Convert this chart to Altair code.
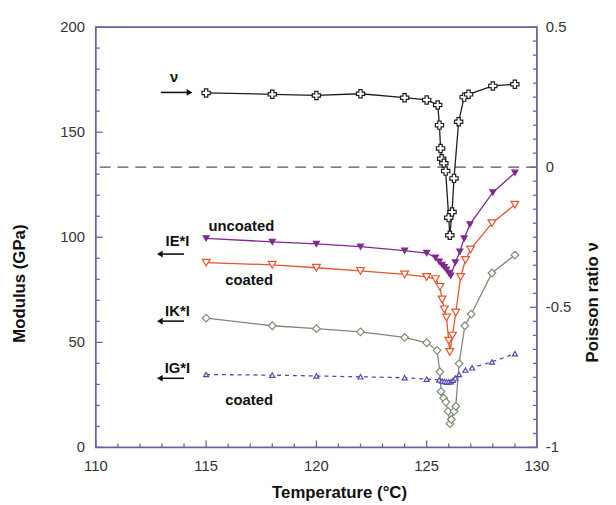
import altair as alt
import pandas as pd

# ---------------- data ----------------
nu_T = [115, 118, 120, 122, 124, 125, 125.5, 125.58, 125.63, 125.68, 125.78, 125.86,
        126.0, 126.05, 126.15, 126.24, 126.45, 126.7, 126.9, 128, 129]
nu_v = [0.265, 0.26, 0.256, 0.262, 0.248, 0.24, 0.222, 0.15, 0.067, 0.03, 0.014, -0.014,
        -0.18, -0.243, -0.16, -0.04, 0.162, 0.25, 0.26, 0.29, 0.296]

Eu_T = [115, 118, 120, 122, 124, 125, 125.4, 125.57, 125.7, 125.8, 125.9, 126.0, 126.09,
        126.3, 126.5, 126.7, 126.96, 128, 129]
Eu_v = [99.5, 97.8, 96.8, 95.5, 93.6, 92.5, 90.3, 88.4, 86.9, 85.8, 84.6, 83.0, 81.7,
        88.0, 93.1, 99.4, 106.1, 121.3, 130.7]

Ec_T = [115, 118, 120, 122, 124, 125, 125.4, 125.6, 125.7, 125.8, 125.9, 126.0, 126.05,
        126.17, 126.32, 126.54, 126.76, 126.99, 127.96, 129.0]
Ec_v = [87.9, 86.9, 85.5, 84.0, 82.3, 81.1, 80.1, 76.4, 70.4, 65.7, 61.8, 50.8, 45.4,
        53.2, 64.2, 81.1, 89.2, 94.2, 106.7, 115.5]

K_T = [115, 118, 120, 122, 124, 125, 125.47, 125.6, 125.65, 125.77, 125.87, 125.97, 126.06,
       126.12, 126.24, 126.32, 126.47, 126.73, 127.02, 127.96, 129.0]
K_v = [61.5, 57.9, 56.5, 55.0, 52.4, 49.8, 46.2, 36.0, 26.6, 23.5, 21.6, 17.2, 11.3,
       13.3, 17.2, 19.6, 39.9, 57.9, 63.4, 83.0, 91.5]

G_T = [115, 118, 120, 122, 124, 125, 125.57, 125.7, 125.8, 125.9, 126.0, 126.1, 126.2,
       126.3, 126.47, 126.76, 127.06, 127.96, 129.0]
G_v = [34.7, 34.4, 34.0, 33.6, 33.2, 32.5, 32.1, 31.6, 31.4, 31.2, 31.2, 31.3, 32.0,
       33.0, 34.7, 36.8, 37.9, 40.7, 44.6]

x_ticks_major = [110, 115, 120, 125, 130]
x_ticks_minor = [t for t in range(110, 131) if t % 5 != 0]
yl_ticks_major = [0, 50, 100, 150, 200]
yl_ticks_minor = [v for v in range(0, 201, 10) if v % 50 != 0]
yr_ticks_major = [-1, -0.5, 0, 0.5]
yr_tick_labels = ["-1", "-0.5", "0", "0.5"]
yr_ticks_minor = [round(-1 + 0.05 * i, 2) for i in range(31) if i % 10 != 0]

labels = ["\u03bd", "IE*I", "uncoated", "coated", "IK*I", "IG*I", "coated"]
label_T = [113.55, 113.7, 116.6, 116.95, 113.7, 113.7, 116.95]
label_v = [176.0, 98.3, 105.5, 79.8, 64.8, 38.0, 22.5]

arrow_T1 = [112.95, 112.9, 112.9, 112.9]
arrow_T2 = [114.25, 114.0, 114.0, 114.0]
arrow_v = [168.9, 92.0, 60.1, 32.9]
arrow_dir = ["right", "left", "left", "left"]

# ---------------- styling ----------------
W, H = 447, 426
AXIS = "#7660a2"
FONT = "Liberation Sans"
C_NU = "#1e1e1e"
C_EU = "#7f2a8e"
C_EC = "#e6532c"
C_K = "#7c8c74"
C_G = "#5a45ad"

xs = alt.Scale(domain=[110, 130], nice=False, zero=False)
yL = alt.Scale(domain=[0, 200], nice=False, zero=False)
yR = alt.Scale(domain=[-1, 0.5], nice=False, zero=False)

X = lambda f="t": alt.X(f"{f}:Q", scale=xs, axis=None)
YL = lambda f="v": alt.Y(f"{f}:Q", scale=yL, axis=None)
YR = lambda f="v": alt.Y(f"{f}:Q", scale=yR, axis=None)


def df(t, v):
    return pd.DataFrame({"t": t, "v": v})


def series(t, v, color, shape, size, fill, ych, dash=None, sw=1.3):
    base = alt.Chart(df(t, v))
    lk = dict(color=color, strokeWidth=sw)
    if dash:
        lk["strokeDash"] = dash
    line = base.mark_line(**lk).encode(x=X(), y=ych())
    pts = base.mark_point(shape=shape, size=size, filled=True, fill=fill, stroke=color,
                          strokeWidth=1.2, opacity=1).encode(x=X(), y=ych())
    return [line, pts]


# ticks (inward)
def xticks(vals, ln):
    return alt.Chart(pd.DataFrame({"t": vals})).mark_rule(color=AXIS, strokeWidth=1.3).encode(
        x=X(), y=alt.value(H), y2=alt.value(H - ln))


def ylticks(vals, ln):
    return alt.Chart(pd.DataFrame({"v": vals})).mark_rule(color=AXIS, strokeWidth=1.3).encode(
        y=YL(), x=alt.value(0), x2=alt.value(ln))


def yrticks(vals, ln):
    return alt.Chart(pd.DataFrame({"v": vals})).mark_rule(color=AXIS, strokeWidth=1.3).encode(
        y=YR(), x=alt.value(W), x2=alt.value(W - ln))


lab_style = dict(font=FONT, fontSize=15, color="#333333", baseline="middle")

x_labels = alt.Chart(pd.DataFrame({"t": x_ticks_major, "s": [str(v) for v in x_ticks_major]})).mark_text(
    align="center", **lab_style).encode(x=X(), y=alt.value(H + 19), text="s:N")
yl_labels = alt.Chart(pd.DataFrame({"v": yl_ticks_major, "s": [str(v) for v in yl_ticks_major]})).mark_text(
    align="right", **lab_style).encode(y=YL(), x=alt.value(-11), text="s:N")
yr_labels = alt.Chart(pd.DataFrame({"v": yr_ticks_major, "s": yr_tick_labels})).mark_text(
    align="left", **lab_style).encode(y=YR(), x=alt.value(W + 9), text="s:N")


def title_text(txt, x, y, angle=0):
    return alt.Chart(pd.DataFrame({"label": [txt]})).mark_text(
        font=FONT, fontSize=17, fontWeight="bold", color="#111111", angle=angle,
        baseline="middle", align="center"
    ).encode(x=alt.value(x), y=alt.value(y), text="label:N")


# left-axis group
left_layers = []
left_layers += series(K_T, K_v, C_K, "diamond", 60, "white", YL)
left_layers += series(G_T, G_v, C_G, "triangle-up", 26, "white", YL, dash=[4, 4])
left_layers += series(Ec_T, Ec_v, C_EC, "triangle-down", 62, "white", YL)
left_layers += series(Eu_T, Eu_v, C_EU, "triangle-down", 36, C_EU, YL)
left_layers += [xticks(x_ticks_major, 7), xticks(x_ticks_minor, 4),
                ylticks(yl_ticks_major, 7), ylticks(yl_ticks_minor, 4),
                x_labels, yl_labels]

ann = alt.Chart(pd.DataFrame({"t": label_T, "v": label_v, "label": labels})).mark_text(
    font=FONT, fontSize=15, fontWeight="bold", color="#111111", baseline="middle", align="center"
).encode(x=X(), y=YL(), text="label:N")

arr_df = pd.DataFrame({"t1": arrow_T1, "t2": arrow_T2, "v": arrow_v})
arr_df["head"] = [a if d == "right" else b for a, b, d in zip(arrow_T2, arrow_T1, arrow_dir)]
arr_df["shape"] = ["triangle-right" if d == "right" else "triangle-left" for d in arrow_dir]
arr_line = alt.Chart(arr_df).mark_rule(color="#111111", strokeWidth=1.6).encode(
    x=X("t1"), x2="t2:Q", y=YL())
arr_head = alt.Chart(arr_df).mark_point(filled=True, color="#111111", size=45, opacity=1).encode(
    x=X("head"), y=YL(), shape=alt.Shape("shape:N", scale=None))
left_layers += [ann, arr_line, arr_head]

left_layers += [title_text("Modulus (GPa)", -77, 260, 270),
                title_text("Temperature (\u00b0C)", 247, 472)]

left_group = alt.layer(*left_layers)

# right-axis group
zero_line = alt.Chart(pd.DataFrame({"v": [0]})).mark_rule(
    color="#555555", strokeWidth=1.3, strokeDash=[11, 7]).encode(y=YR())

right_layers = [zero_line]
right_layers += series(nu_T, nu_v, C_NU, "cross", 70, "white", YR)
right_layers += [yrticks(yr_ticks_major, 7), yrticks(yr_ticks_minor, 4), yr_labels,
                 title_text("Poisson ratio \u03bd", W + 57, 279, 270)]
right_group = alt.layer(*right_layers)

chart = alt.layer(left_group, right_group).resolve_scale(y="independent").properties(
    width=W, height=H,
    autosize=alt.AutoSizeParams(type="none"),
    padding={"left": 89, "top": 16, "right": 72, "bottom": 55},
    background="white",
).configure_view(stroke=AXIS, strokeWidth=1.8)

chart.save("out.html", embed_options={"renderer": "svg", "actions": False})
